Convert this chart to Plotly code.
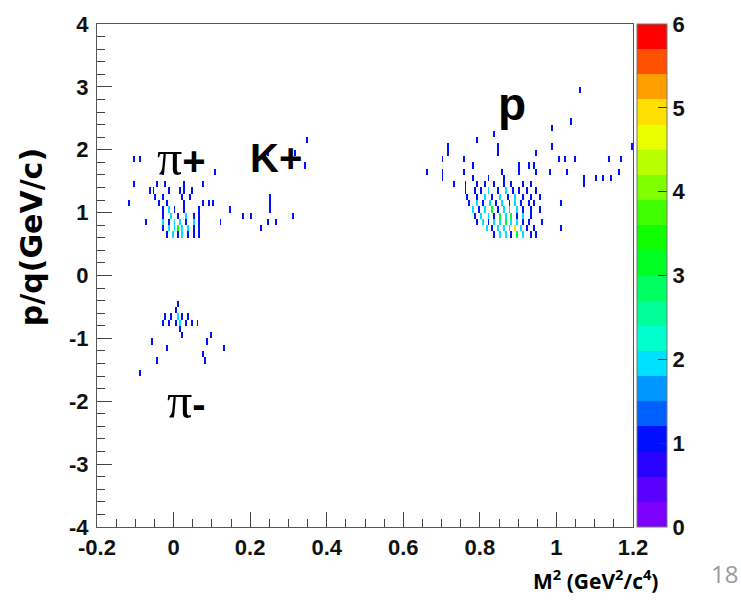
import numpy as np
import plotly.graph_objects as go

# ---- data: occupied 2D-histogram bins (M^2, p/q, counts) ----
pip_bins = [
    (-0.105, 1.85, 1), (-0.09, 1.85, 1),
    (-0.03, 1.65, 1),
    (-0.105, 1.45, 1), (-0.045, 1.45, 1), (-0.025, 1.45, 1), (0.025, 1.45, 1), (0.075, 1.45, 1),
    (-0.065, 1.35, 1), (-0.055, 1.35, 1), (-0.015, 1.35, 1), (0.015, 1.35, 1), (0.025, 1.35, 1), (0.045, 1.35, 1),
    (-0.05, 1.25, 1), (-0.03, 1.25, 1), (0.02, 1.25, 1), (0.04, 1.25, 1),
    (-0.12, 1.15, 1), (-0.04, 1.15, 1), (-0.02, 1.15, 1), (0.025, 1.15, 1), (0.075, 1.15, 1), (0.09, 1.15, 1), (0.1, 1.15, 1),
    (-0.03, 1.05, 1), (-0.015, 1.05, 2), (0.0, 1.05, 1), (0.025, 1.05, 1), (0.065, 1.05, 1),
    (-0.03, 0.95, 1), (-0.01, 0.95, 2), (0.01, 0.95, 1), (0.03, 0.95, 2), (0.05, 0.95, 1), (0.065, 0.95, 1),
    (-0.075, 0.85, 1), (-0.03, 0.85, 2), (-0.015, 0.85, 1), (0.0, 0.85, 2), (0.015, 0.85, 2), (0.03, 0.85, 1), (0.05, 0.85, 2), (0.065, 0.85, 1),
    (-0.03, 0.75, 1), (-0.015, 0.75, 2), (0.0, 0.75, 2), (0.01, 0.75, 3), (0.02, 0.75, 2), (0.035, 0.75, 2), (0.05, 0.75, 1), (0.065, 0.75, 1),
    (-0.02, 0.65, 1), (-0.005, 0.65, 2), (0.01, 0.65, 1), (0.02, 0.65, 2), (0.035, 0.65, 1), (0.05, 0.65, 1), (0.065, 0.65, 1),
]

kp_bins = [
    (0.345, 2.15, 1), (0.245, 1.95, 1), (0.315, 1.95, 1), (0.34, 1.75, 1), (0.105, 1.65, 1),
    (0.25, 1.25, 1), (0.25, 1.15, 1), (0.25, 1.05, 1),
    (0.145, 1.05, 1), (0.18, 0.95, 1), (0.2, 0.95, 1), (0.31, 0.95, 1),
    (0.12, 0.85, 1), (0.245, 0.85, 1), (0.265, 0.85, 1), (0.225, 0.75, 1),
]

pim_bins = [
    (0.01, -0.45, 1), (0.005, -0.55, 1),
    (-0.025, -0.65, 1), (-0.01, -0.65, 1), (0.01, -0.65, 2), (0.02, -0.65, 1), (0.035, -0.65, 1),
    (-0.03, -0.75, 1), (-0.015, -0.75, 1), (0.005, -0.75, 1), (0.015, -0.75, 2), (0.03, -0.75, 1), (0.045, -0.75, 1), (0.06, -0.75, 1),
    (0.015, -0.85, 1),
    (-0.06, -1.05, 1), (0.02, -0.95, 1), (0.085, -1.05, 1), (0.095, -0.95, 1),
    (-0.02, -1.15, 1), (0.13, -1.15, 1),
    (-0.045, -1.35, 1), (0.075, -1.25, 1), (0.08, -1.35, 1),
    (-0.09, -1.55, 1),
]

p_bins = [
    (1.06, 2.95, 1), (1.035, 2.45, 1), (0.985, 2.35, 1), (0.835, 2.25, 1), (0.79, 2.15, 1),
    (0.715, 2.05, 1), (0.845, 2.05, 1), (0.985, 2.05, 1), (1.195, 2.05, 1),
    (0.715, 1.95, 1), (0.845, 1.95, 1), (0.945, 1.95, 1),
    (0.70, 1.85, 1), (0.755, 1.85, 1), (1.005, 1.85, 1), (1.02, 1.85, 1), (1.045, 1.85, 1), (1.135, 1.85, 1), (1.165, 1.85, 1),
    (0.78, 1.75, 1), (0.90, 1.75, 1), (0.925, 1.75, 1), (0.94, 1.75, 1),
    (0.66, 1.65, 1), (0.70, 1.65, 1), (0.755, 1.65, 1), (0.855, 1.65, 1), (0.90, 1.65, 1), (0.945, 1.65, 1), (0.98, 1.65, 1), (1.025, 1.65, 1), (1.16, 1.65, 1),
    (0.70, 1.55, 1), (0.78, 1.55, 1), (0.82, 1.55, 1), (0.86, 1.55, 1), (1.07, 1.55, 1), (1.10, 1.55, 1), (1.12, 1.55, 1), (1.14, 1.55, 1),
    (0.73, 1.45, 1), (0.76, 1.45, 1), (0.79, 1.45, 1), (0.81, 1.45, 1), (0.835, 1.45, 1), (0.86, 1.45, 1), (0.88, 1.45, 1), (0.91, 1.45, 1), (0.93, 1.45, 1), (1.07, 1.45, 1),
    (0.76, 1.35, 1), (0.785, 1.35, 1), (0.80, 1.35, 1), (0.82, 1.35, 2), (0.845, 1.35, 1), (0.865, 1.35, 2), (0.885, 1.35, 1), (0.90, 1.35, 1), (0.92, 1.35, 1), (0.945, 1.35, 1),
    (0.765, 1.25, 1), (0.79, 1.25, 1), (0.81, 1.25, 2), (0.83, 1.25, 1), (0.85, 1.25, 2), (0.87, 1.25, 1), (0.89, 1.25, 2), (0.91, 1.25, 1), (0.93, 1.25, 1), (0.955, 1.25, 1),
    (0.77, 1.15, 1), (0.79, 1.15, 2), (0.805, 1.15, 1), (0.825, 1.15, 2), (0.84, 1.15, 1), (0.855, 1.15, 2), (0.875, 1.15, 1), (0.89, 1.15, 2), (0.905, 1.15, 1), (0.925, 1.15, 1), (0.94, 1.15, 1), (1.01, 1.15, 1),
    (0.78, 1.05, 2), (0.795, 1.05, 1), (0.81, 1.05, 2), (0.83, 1.05, 3), (0.845, 1.05, 1), (0.86, 1.05, 2), (0.875, 1.05, 3), (0.895, 1.05, 2), (0.91, 1.05, 1), (0.93, 1.05, 1), (0.955, 1.05, 1),
    (0.785, 0.95, 1), (0.80, 0.95, 2), (0.82, 0.95, 2), (0.835, 0.95, 1), (0.85, 0.95, 3), (0.865, 0.95, 2), (0.88, 0.95, 3), (0.895, 0.95, 1), (0.91, 0.95, 2), (0.93, 0.95, 1),
    (0.79, 0.85, 1), (0.805, 0.85, 2), (0.82, 0.85, 1), (0.835, 0.85, 2), (0.85, 0.85, 2), (0.865, 0.85, 3), (0.88, 0.85, 2), (0.895, 0.85, 2), (0.91, 0.85, 1), (0.925, 0.85, 1), (0.96, 0.85, 1),
    (0.815, 0.75, 2), (0.83, 0.75, 1), (0.845, 0.75, 2), (0.86, 0.75, 2), (0.875, 0.75, 3), (0.89, 0.75, 5), (0.905, 0.75, 2), (0.92, 0.75, 1), (0.94, 0.75, 1), (1.01, 0.75, 1),
    (0.835, 0.65, 1), (0.85, 0.65, 2), (0.865, 0.65, 2), (0.88, 0.65, 1), (0.895, 0.65, 3), (0.91, 0.65, 2), (0.93, 0.65, 1), (0.945, 0.65, 1),
]

# histogram binning
x_min, x_max, nx = -0.2, 1.2, 280
y_min, y_max, ny = -4.0, 4.0, 80
z_min, z_max = 0, 6
cbar_ticks = [0, 1, 2, 3, 4, 5, 6]
x_ticks = [-0.2, 0, 0.2, 0.4, 0.6, 0.8, 1, 1.2]
x_ticktext = ["-0.2", "0", "0.2", "0.4", "0.6", "0.8", "1", "1.2"]
y_ticks = [-4, -3, -2, -1, 0, 1, 2, 3, 4]
y_ticktext = ["-4", "-3", "-2", "-1", "0", "1", "2", "3", "4"]

band_colors = [
    "#7d00ff", "#5a00ff", "#2a00ff", "#0010ff", "#0060ff", "#0096ff", "#00e0ff",
    "#00ffcc", "#00ff99", "#00ff60", "#00ff20", "#10ff00", "#40ff00", "#80ff00",
    "#b8ff00", "#eaff00", "#ffe000", "#ffa000", "#ff5000", "#ff0000",
]

# ---- build histogram grid ----
dx = (x_max - x_min) / nx
dy = (y_max - y_min) / ny
xc = x_min + dx * (np.arange(nx) + 0.5)
yc = y_min + dy * (np.arange(ny) + 0.5)
z = np.full((ny, nx), np.nan)
for m2, pq, n in pip_bins + kp_bins + pim_bins + p_bins:
    i = min(nx - 1, int(np.floor((m2 - x_min) / dx + 0.2)))
    j = int(np.floor((pq - y_min) / dy + 1e-6))
    z[j, i] = (0 if np.isnan(z[j, i]) else z[j, i]) + n

nb = len(band_colors)
cscale = []
for k, c in enumerate(band_colors):
    cscale.append([k / nb, c])
    cscale.append([(k + 1) / nb, c])

tick_font = dict(family="Liberation Sans", size=22, color="#111111", weight="bold")
bold = lambda labels: ["<b>%s</b>" % t for t in labels]

fig = go.Figure()
fig.add_trace(go.Heatmap(
    x=xc, y=yc, z=z, zmin=z_min, zmax=z_max, colorscale=cscale,
    hoverongaps=False, zsmooth=False,
    colorbar=dict(
        x=1.008, xanchor="left", xpad=0, y=0.5, yanchor="middle",
        len=1.0, lenmode="fraction", ypad=0, thickness=30,
        outlinewidth=1, outlinecolor="#777777",
        tickvals=cbar_ticks, ticktext=bold([str(t) for t in cbar_ticks]),
        ticks="inside", ticklen=9, tickcolor="#333333",
        tickfont=tick_font,
    ),
))

P_L, P_R, P_T, P_B = 97, 633, 22, 527
W, H = 741, 605

axis_common = dict(
    showgrid=False, zeroline=False, showline=True, mirror=True,
    linecolor="#555555", linewidth=1, ticks="inside", ticklen=15,
    tickcolor="#444444", tickfont=tick_font,
)

fig.update_layout(
    width=W, height=H,
    margin=dict(l=P_L, r=W - P_R, t=P_T, b=H - P_B),
    paper_bgcolor="white", plot_bgcolor="white",
    xaxis=dict(range=[x_min, x_max], tickvals=x_ticks, ticktext=bold(x_ticktext),
               minor=dict(dtick=0.05, tick0=0, ticks="inside", ticklen=8, tickcolor="#444444"),
               ticklabelstandoff=1, **axis_common),
    yaxis=dict(range=[y_min, y_max], tickvals=y_ticks, ticktext=bold(y_ticktext),
               minor=dict(dtick=0.2, tick0=0, ticks="inside", ticklen=8, tickcolor="#444444"),
               ticklabelstandoff=3, **axis_common),
)

def px2paper(px, py):
    return (px - P_L) / (P_R - P_L), (P_B - py) / (P_B - P_T)

big = dict(family="Liberation Sans", size=40, color="black", weight="bold")
pi_span = '<span style="font-family:Liberation Serif;font-size:50px;font-weight:normal">π</span>'
labels = [
    (pi_span + "+", 0.022, 1.87, 40),
    ("K+", 0.267, 1.87, 40),
    ("p", 0.884, 2.73, 46),
    (pi_span + "-", 0.035, -2.0, 40),
]
for txt, xx, yy, fs in labels:
    fig.add_annotation(x=xx, y=yy, xref="x", yref="y", text=txt, showarrow=False,
                       xanchor="center", yanchor="middle", font=dict(big, size=fs))

ax, ay = px2paper(31, 236)
fig.add_annotation(x=ax, y=ay, xref="paper", yref="paper", text="p/q(GeV/c)",
                   textangle=-90, showarrow=False, xanchor="center", yanchor="middle",
                   font=dict(family="DejaVu Sans", size=30, color="black", weight="bold"))
bx, by = px2paper(595, 580)
fig.add_annotation(x=bx, y=by, xref="paper", yref="paper",
                   text="M<sup>2</sup> (GeV<sup>2</sup>/c<sup>4</sup>)", showarrow=False,
                   xanchor="center", yanchor="middle",
                   font=dict(family="Open Sans", size=21, color="black", weight="bold"))
cx, cy = px2paper(724, 574)
fig.add_annotation(x=cx, y=cy, xref="paper", yref="paper", text="18", showarrow=False,
                   xanchor="center", yanchor="middle",
                   font=dict(family="Open Sans", size=24, color="#9a9a9a"))

fig.write_html("out.html")
